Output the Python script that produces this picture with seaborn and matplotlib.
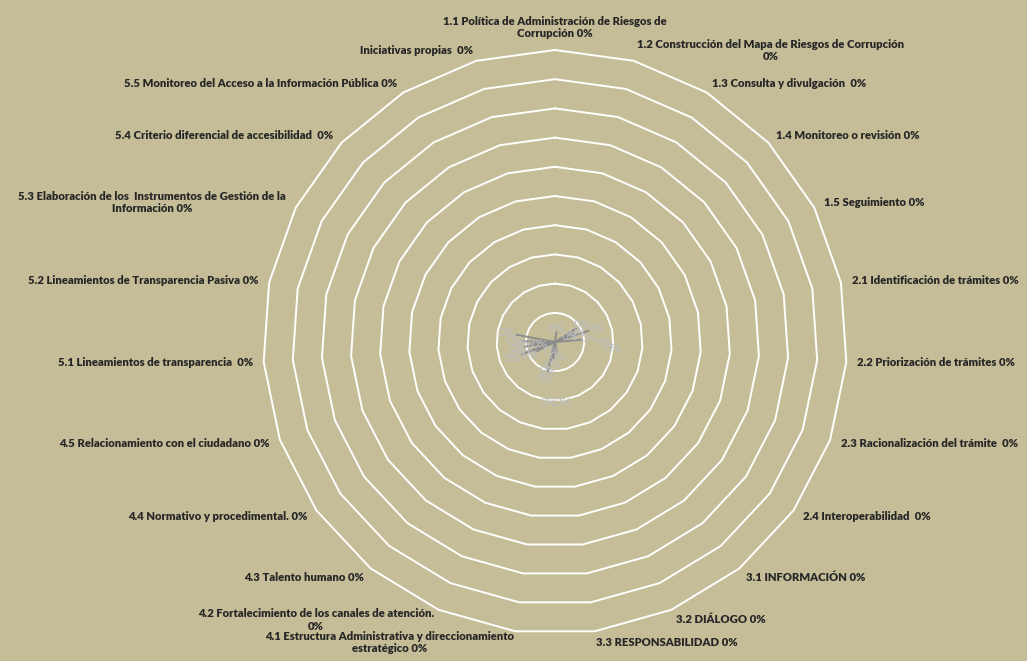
import numpy as np
import pandas as pd
import seaborn as sns
import matplotlib.pyplot as plt

# categorias del radar (sentido horario desde arriba)
categorias = [
    "1.1 Política de Administración de Riesgos de\nCorrupción",
    "1.2 Construcción del Mapa de Riesgos de Corrupción\n",
    "1.3 Consulta y divulgación ",
    "1.4 Monitoreo o revisión",
    "1.5 Seguimiento",
    "2.1 Identificación de trámites",
    "2.2 Priorización de trámites",
    "2.3 Racionalización del trámite ",
    "2.4 Interoperabilidad ",
    "3.1 INFORMACIÓN",
    "3.2 DIÁLOGO",
    "3.3 RESPONSABILIDAD",
    "4.1 Estructura Administrativa y direccionamiento\nestratégico",
    "4.2 Fortalecimiento de los canales de atención.\n",
    "4.3 Talento humano",
    "4.4 Normativo y procedimental.",
    "4.5 Relacionamiento con el ciudadano",
    "5.1 Lineamientos de transparencia ",
    "5.2 Lineamientos de Transparencia Pasiva",
    "5.3 Elaboración de los  Instrumentos de Gestión de la\nInformación",
    "5.4 Criterio diferencial de accesibilidad ",
    "5.5 Monitoreo del Acceso a la Información Pública",
    "Iniciativas propias ",
]

# avance de cada componente (todos en 0%)
valores = [0, 0, 0, 0, 0, 0, 0, 0, 0, 0, 0, 0,
           0, 0, 0, 0, 0, 0, 0, 0, 0, 0, 0]

# escala radial 0% - 100%
niveles = [0.1, 0.2, 0.3, 0.4, 0.5, 0.6, 0.7, 0.8, 0.9, 1.0]

# posiciones (desplazadas) de las etiquetas de datos, en pixeles desde el centro
etiqueta_dx = [-48, -40, -38, -36, -42, -30, 2, 23, 42, 34, 50, 58,
               27, -3, 3, -2, -7, -9, -6, 8, -15, 15, -24]
etiqueta_dy = [-9, -1, 6, 13, 16, 3, -13, -10, -14, -3, 0, 6,
               -17, 8, 15, 22, 29, 37, 61, 61, 2, -6, 12]

sns.set_theme(style="white")
plt.rcParams['font.family'] = ['Lato', 'DejaVu Sans']

fondo = '#C4BD97'
escala = 292.0  # pixeles por unidad de radio

fig = plt.figure(figsize=(10.27, 6.61), dpi=100)
fig.patch.set_facecolor(fondo)
ax = fig.add_axes([0, 0, 1, 1])
ax.set_facecolor(fondo)
ax.set_xlim(-555 / escala, 472 / escala)
ax.set_ylim(-319 / escala, 342 / escala)
ax.axis('off')

n = len(categorias)
theta = np.pi / 2 - 2 * np.pi * np.arange(n) / n
theta_c = np.append(theta, theta[0])

# rejilla poligonal
for r in niveles:
    ax.plot(r * np.cos(theta_c), r * np.sin(theta_c), color='white', lw=1.4, zorder=1)

# serie de datos
v = np.array(valores + valores[:1], dtype=float)
df = pd.DataFrame({'x': v * np.cos(theta_c), 'y': v * np.sin(theta_c)})
sns.lineplot(data=df, x='x', y='y', sort=False, estimator=None,
             color='#7F7F7F', lw=2, ax=ax, legend=False)
ax.set_xlabel('')
ax.set_ylabel('')

# etiquetas de datos con lineas guia
for i in range(n):
    x0 = valores[i] * np.cos(theta[i])
    y0 = valores[i] * np.sin(theta[i])
    lx = etiqueta_dx[i] / escala
    ly = -etiqueta_dy[i] / escala
    if np.hypot(etiqueta_dx[i], etiqueta_dy[i]) < 50:
        ax.plot([x0, lx * 0.8], [y0, ly * 0.8], color='#8C8C8C', lw=1.4, zorder=2)
    ax.text(lx, ly, '0%', color='#BDBDC2', fontsize=8.5, ha='center', va='center', zorder=3)

# etiquetas de categoria
off = 1 + 11 / escala
for i, cat in enumerate(categorias):
    c, s = np.cos(theta[i]), np.sin(theta[i])
    texto = cat + (' 0%' if not cat.endswith('\n') else '0%')
    if abs(c) < 0.05:
        ha, va = 'center', 'bottom'
    else:
        ha = 'left' if c > 0 else 'right'
        va = 'center'
    ax.text(off * c, off * s, texto, ha=ha, va=va, multialignment='center',
            fontsize=8.1, fontweight='heavy', color='#262626', linespacing=1.15)

fig.savefig('out.png', dpi=100, facecolor=fondo)
